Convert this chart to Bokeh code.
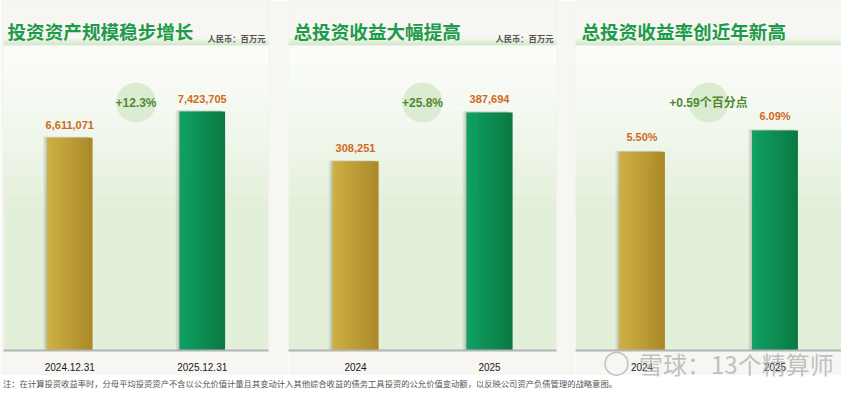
from bokeh.plotting import figure
from bokeh.models import Range1d, BoxAnnotation, Label, Div, FixedTicker
from bokeh.layouts import row, column
from bokeh.embed import file_html
from bokeh.resources import INLINE
from bokeh.core.properties import value

# ---------------- data ----------------
titles = ["投资资产规模稳步增长", "总投资收益大幅提高", "总投资收益率创近年新高"]
units = ["人民币：百万元", "人民币：百万元", ""]

cats1 = ["2024.12.31", "2025.12.31"]
vals1 = [6611071, 7423705]
labels1 = ["6,611,071", "7,423,705"]
change1 = "+12.3%"

cats2 = ["2024", "2025"]
vals2 = [308251, 387694]
labels2 = ["308,251", "387,694"]
change2 = "+25.8%"

cats3 = ["2024", "2025"]
vals3 = [5.50, 6.09]
labels3 = ["5.50%", "6.09%"]
change3 = "+0.59个百分点"

footnote = ("注：在计算投资收益率时，分母平均投资资产不含以公允价值计量且其变动计入其他综合收益的"
            "债务工具投资的公允价值变动额，以反映公司资产负债管理的战略意图。")
watermark = "雪球：13个精算师"

# ---------------- style ----------------
PAGE_BG = "#f7f6f2"
PANEL_GREEN = "#e2efd9"
TITLE_GREEN = "#1d9b4b"
VALUE_ORANGE = "#cf6a1d"
CHANGE_GREEN = "#4f8a30"
CIRCLE_FILL = "#dcecd3"
GOLD = ("#ccb043", "#ad8a29")
GREEN = ("#10a064", "#0a7a42")
CJK = "Noto Sans CJK SC"
NUM = "Liberation Sans, Noto Sans CJK SC"

FRAME_TOP = 0       # canvas y of frame top
FRAME_BOTTOM = 350  # canvas y of baseline
FRAME_H = FRAME_BOTTOM - FRAME_TOP


def mix(c1, c2, t):
    a = [int(c1[i:i + 2], 16) for i in (1, 3, 5)]
    b = [int(c2[i:i + 2], 16) for i in (1, 3, 5)]
    return "#" + "".join("%02x" % round(a[k] + (b[k] - a[k]) * t) for k in range(3))


def make_panel(title, unit, cats, vals, labels, change, y_end, frame_w, border_l,
               border_r, title_x):
    xs = [i + 1 for i in range(len(cats))]
    p = figure(frame_width=frame_w, frame_height=FRAME_H,
               x_range=Range1d(0.5, 2.5), y_range=Range1d(0, y_end),
               output_backend="svg", toolbar_location=None,
               y_axis_location=None,
               min_border_left=border_l, min_border_right=border_r,
               min_border_top=0, min_border_bottom=25)
    p.outline_line_color = None
    p.grid.visible = False
    p.background_fill_color = PANEL_GREEN
    p.border_fill_color = PAGE_BG

    def px2d(py):
        return (FRAME_BOTTOM - py) / FRAME_H * y_end

    # header area (page colour)
    p.add_layout(BoxAnnotation(top=px2d(FRAME_TOP), bottom=px2d(36), fill_color=PAGE_BG,
                               fill_alpha=1, line_alpha=0, level="underlay"))
    # title underline band (gradient)
    nb = 6
    for k in range(nb):
        y0 = 36 + k * 9.0 / nb
        y1 = y0 + 9.0 / nb + 0.2
        c = mix("#f6f9f2", "#d6e8cc", k / (nb - 1))
        p.add_layout(BoxAnnotation(top=px2d(y0), bottom=px2d(y1), fill_color=c,
                                   fill_alpha=1, line_alpha=0, level="underlay"))
    # panel vertical gradient
    ng = 26
    g0, g1 = 45.0, 215.0
    for k in range(ng):
        y0 = g0 + k * (g1 - g0) / ng
        y1 = y0 + (g1 - g0) / ng + 0.3
        t = (k / (ng - 1)) ** 1.3
        c = mix("#fbfcf9", PANEL_GREEN, t)
        p.add_layout(BoxAnnotation(top=px2d(y0), bottom=px2d(y1), fill_color=c,
                                   fill_alpha=1, line_alpha=0, level="underlay"))

    w = 0.34
    # soft shadow
    p.vbar(x=[x - 0.03 for x in xs], top=[v * 1.006 for v in vals], width=w,
           fill_color="#000000", fill_alpha=0.07, line_color=None)
    p.vbar(x=[x - 0.016 for x in xs], top=[v * 1.003 for v in vals], width=w,
           fill_color="#000000", fill_alpha=0.10, line_color=None)
    # gradient bars
    n = 14
    for i in range(n):
        t = i / (n - 1)
        cols = [mix(GOLD[0], GOLD[1], t), mix(GREEN[0], GREEN[1], t)]
        p.vbar(x=[x - w / 2 + (i + 0.5) * w / n for x in xs], top=vals,
               width=w / n * 1.2, fill_color=cols, line_color=None)

    # value labels
    p.text(x=xs, y=vals, text=labels, text_align="center", text_baseline="bottom",
           y_offset=-9, text_font=value(NUM), text_font_style="bold",
           text_font_size="11px", text_color=VALUE_ORANGE)

    # change bubble
    mid = sum(xs) / len(xs)
    cy = px2d(102)
    p.scatter(x=[mid], y=[cy], size=40, fill_color=CIRCLE_FILL, line_color=None)
    p.text(x=[mid], y=[cy], text=[change], text_align="center", text_baseline="middle",
           text_font=value(NUM), text_font_style="bold", text_font_size="12px",
           text_color=CHANGE_GREEN)

    # axis
    ax = p.xaxis[0]
    ax.ticker = FixedTicker(ticks=xs)
    ax.major_label_overrides = {x: c for x, c in zip(xs, cats)}
    ax.axis_line_color = "#b3b3b3"
    ax.axis_line_width = 2
    ax.major_tick_line_color = None
    ax.minor_tick_line_color = None
    ax.major_label_standoff = 6
    ax.major_label_text_font = "Liberation Sans"
    ax.major_label_text_font_size = "10px"
    ax.major_label_text_color = "#1a1a1a"

    # header texts
    p.add_layout(Label(x=title_x, y=FRAME_BOTTOM - 30, x_units="screen", y_units="screen",
                       text=title, text_baseline="middle", text_font=CJK,
                       text_font_style="bold", text_font_size="18.6px",
                       text_color=TITLE_GREEN))
    if unit:
        p.add_layout(Label(x=frame_w - 3, y=FRAME_BOTTOM - 37, x_units="screen",
                           y_units="screen", text=unit, text_align="right",
                           text_baseline="middle", text_font=CJK,
                           text_font_style="bold", text_font_size="8.3px",
                           text_color="#555555"))
    return p


p1 = make_panel(titles[0], units[0], cats1, vals1, labels1, change1, 1.08716e7, 265, 3, 20, 4)
p2 = make_panel(titles[1], units[1], cats2, vals2, labels2, change2, 5.70138e5, 268, 0, 19, 5)
p3 = make_panel(titles[2], units[2], cats3, vals3, labels3, change3, 9.689, 266, 0, 0, 6)

note_html = (
    '<div style="position:relative; width:849px; height:18px;">'
    '<div style="position:absolute; left:603px; top:-27px; font-size:24px; line-height:28px; '
    'color:rgba(185,185,185,0.85); font-family:\'DejaVu Sans\'; white-space:nowrap;">&#9711;</div>'
    '<div style="position:absolute; left:639px; top:-25px; font-size:24px; line-height:28px; '
    'color:rgba(178,178,178,0.8); font-family:\'Noto Sans CJK SC\'; white-space:nowrap;">'
    + watermark + '</div>'
    '<div style="position:absolute; left:3px; top:0px; font-size:8.3px; line-height:17px; '
    'color:#555555; font-family:\'Noto Sans CJK SC\'; white-space:nowrap;">'
    + footnote + '</div></div>'
)
note = Div(text=note_html, width=849, height=18, margin=(0, 0, 0, 0))

layout = column(row(p1, p2, p3), note)

open("out.html", "w").write(file_html(layout, INLINE))
